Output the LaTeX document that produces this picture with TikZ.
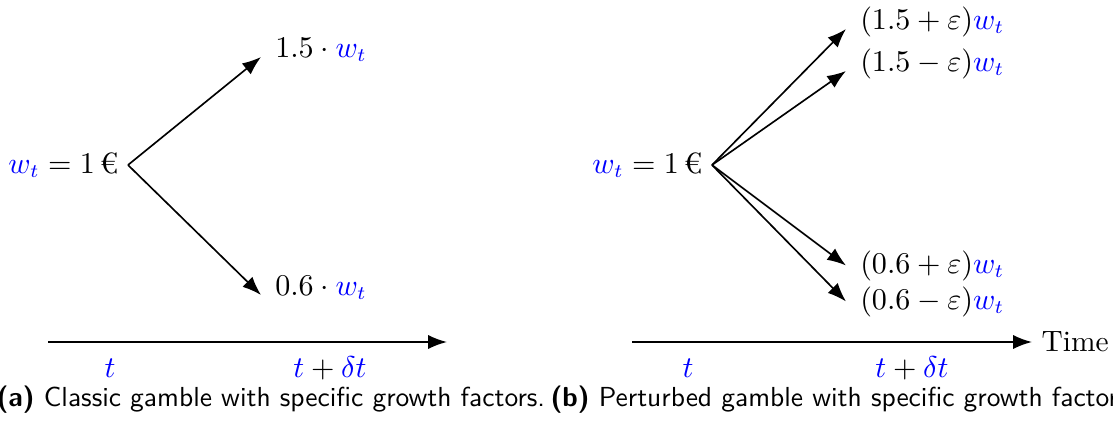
\documentclass[tikz,border=0pt]{standalone}
\usepackage{amsmath}
\usepackage{tikz}
\usetikzlibrary{arrows.meta, positioning}
\newcommand{\bl}[1]{\textcolor{blue}{#1}}

\begin{document}
\begin{tikzpicture}[x=0.3636pt, y=-0.3636pt, >={Latex[scale=1.2]},
    every node/.style={font=\fontsize{10.7}{13}\selectfont},
    branch/.style={->, semithick},
    outcome/.style={anchor=base west, inner sep=5pt},
    subcap/.style={anchor=base west, font=\fontsize{10}{12}\selectfont\sffamily}]
    \useasboundingbox (0,0) rectangle (1113,423);

    % Classic gamble
    \node[anchor=east] (wa) at (128,165) {$\bl{w_t} = 1$\,€};
    \node[outcome] (ua) at (261,57) {$1.5 \cdot \bl{w_t}$};
    \node[outcome] (da) at (261,295) {$0.6 \cdot \bl{w_t}$};
    \draw[branch] (wa.east) -- (ua.base west);
    \draw[branch] (wa.east) -- (da.base west);

    \coordinate (ta0) at (48,342);
    \coordinate (ta1) at (447,342);
    \draw[branch] (ta0) -- (ta1);
    \node (ta) at (110,368) {$\bl{t}$};
    \node (tda) at (330,368) {$\bl{t} + \bl{\delta t}$};

    % Perturbed gamble
    \node[anchor=east] (wb) at (712,165) {$\bl{w_t} = 1$\,€};
    \node[outcome] (ub1) at (846,29) {$(1.5+\varepsilon)\bl{w_t}$};
    \node[outcome] (ub2) at (846,71) {$(1.5-\varepsilon)\bl{w_t}$};
    \node[outcome] (db1) at (846,273) {$(0.6+\varepsilon)\bl{w_t}$};
    \node[outcome] (db2) at (846,309) {$(0.6-\varepsilon)\bl{w_t}$};
    \draw[branch] (wb.east) -- (ub1.base west);
    \draw[branch] (wb.east) -- (ub2.base west);
    \draw[branch] (wb.east) -- (db1.west);
    \draw[branch] (wb.east) -- (db2.west);

    \coordinate (tb0) at (632,342);
    \coordinate (tb1) at (1032,342);
    \draw[branch] (tb0) -- (tb1);
    \node[right] (time) at (tb1) {Time};
    \node (tb) at (688,368) {$\bl{t}$};
    \node (tdb) at (912,368) {$\bl{t} + \bl{\delta t}$};

    % Captions
    \node[subcap] (capa) at (-13,406) {\textbf{(a)} Classic gamble with specific growth factors.};
    \node[subcap] (capb) at (541,406) {\textbf{(b)} Perturbed gamble with specific growth factors.};
\end{tikzpicture}
\end{document}
